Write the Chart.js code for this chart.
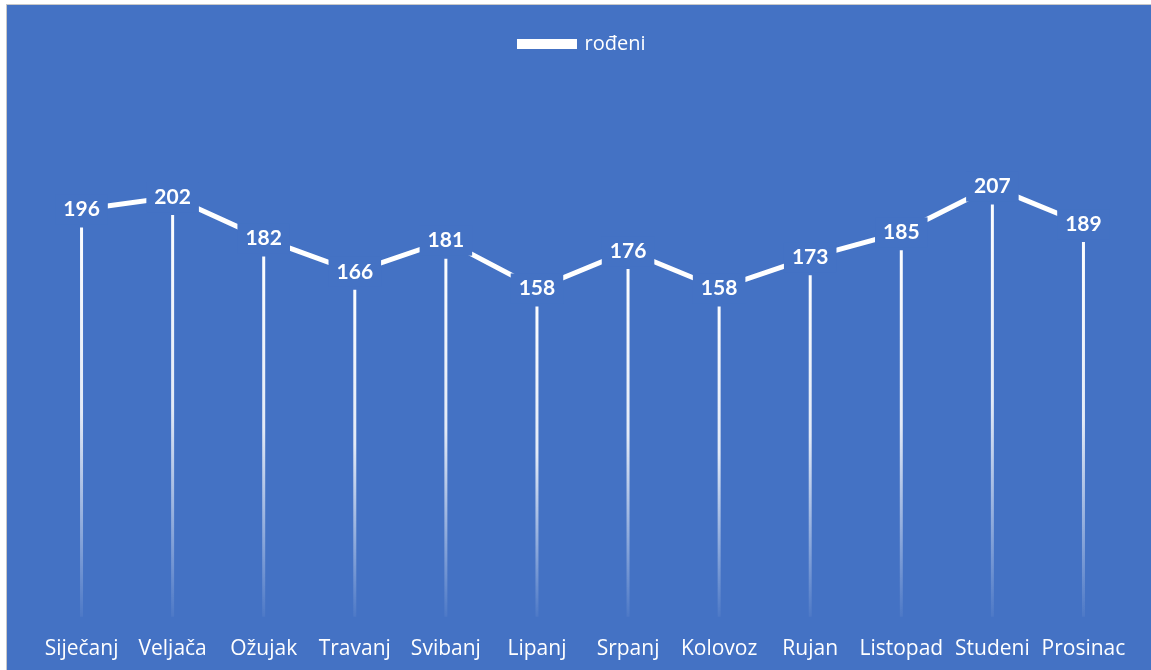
<!DOCTYPE html>
<html>
<head>
<meta charset="utf-8">
<script src="https://cdn.jsdelivr.net/npm/chart.js@4"></script>
<style>
  body { margin: 0; background: #ffffff; }
  #okvir {
    position: absolute; left: 6px; top: 4px; width: 1145px; height: 666px;
    border-left: 1px solid #c8c8c8; border-top: 1px solid #c8c8c8;
    background: #4472c4;
  }
  canvas { display: block; }
</style>
</head>
<body>
<div id="okvir"><canvas id="grafikon" width="1144" height="665"></canvas></div>
<script>
// mjeseci i broj rođenih
const mjeseci = ["Siječanj", "Veljača", "Ožujak", "Travanj", "Svibanj", "Lipanj",
                 "Srpanj", "Kolovoz", "Rujan", "Listopad", "Studeni", "Prosinac"];
const rodeni = [196, 202, 182, 166, 181, 158, 176, 158, 173, 185, 207, 189];

const PLAVA = "#4472c4";
const FONT = "'Open Sans', Lato, sans-serif";
const FONT_BROJ = "Lato, 'Open Sans', sans-serif";

// okomite linije od točke do osi, blijede prema dnu
const okomiteLinije = {
    id: "okomiteLinije",
    beforeDatasetsDraw(chart) {
        const ctx = chart.ctx;
        const y0 = chart.scales.y.getPixelForValue(0);
        chart.getDatasetMeta(0).data.forEach(t => {
            const g = ctx.createLinearGradient(0, t.y, 0, y0);
            g.addColorStop(0, "rgba(255,255,255,1)");
            g.addColorStop(0.5, "rgba(255,255,255,0.85)");
            g.addColorStop(1, "rgba(255,255,255,0.05)");
            ctx.save();
            ctx.strokeStyle = g;
            ctx.lineWidth = 3;
            ctx.beginPath();
            ctx.moveTo(t.x, t.y + 18);
            ctx.lineTo(t.x, y0);
            ctx.stroke();
            ctx.restore();
        });
    }
};

// oznake vrijednosti s plavom podlogom
const oznake = {
    id: "oznake",
    afterDatasetsDraw(chart) {
        const ctx = chart.ctx;
        const podaci = chart.data.datasets[0].data;
        ctx.save();
        ctx.font = "bold 21px " + FONT_BROJ;
        ctx.textAlign = "center";
        ctx.textBaseline = "middle";
        chart.getDatasetMeta(0).data.forEach((t, i) => {
            const tekst = String(podaci[i]);
            const w = ctx.measureText(tekst).width + 16;
            ctx.fillStyle = PLAVA;
            ctx.fillRect(t.x - w / 2, t.y - 15, w, 30);
            ctx.fillStyle = "#ffffff";
            ctx.fillText(tekst, t.x, t.y);
        });
        ctx.restore();
    }
};

new Chart(document.getElementById("grafikon"), {
    type: "line",
    data: {
        labels: mjeseci,
        datasets: [{
            label: "rođeni",
            data: rodeni,
            borderColor: "#ffffff",
            backgroundColor: "#ffffff",
            borderWidth: 5,
            pointRadius: 0,
            tension: 0
        }]
    },
    options: {
        responsive: false,
        animation: false,
        layout: { padding: { left: 29, right: 22, top: 22, bottom: -4 } },
        plugins: {
            legend: {
                labels: {
                    color: "#ffffff",
                    font: { family: FONT, size: 20 },
                    boxWidth: 55,
                    boxHeight: 5,
                    padding: 7
                }
            },
            tooltip: { enabled: false }
        },
        scales: {
            x: {
                offset: true,
                grid: { display: false },
                border: { display: false },
                ticks: {
                    color: "#ffffff",
                    font: { family: FONT, size: 21 },
                    padding: 12,
                    maxRotation: 0,
                    autoSkip: false
                }
            },
            y: {
                display: false,
                min: 0,
                max: 266
            }
        }
    },
    plugins: [okomiteLinije, oznake]
});
</script>
</body>
</html>
